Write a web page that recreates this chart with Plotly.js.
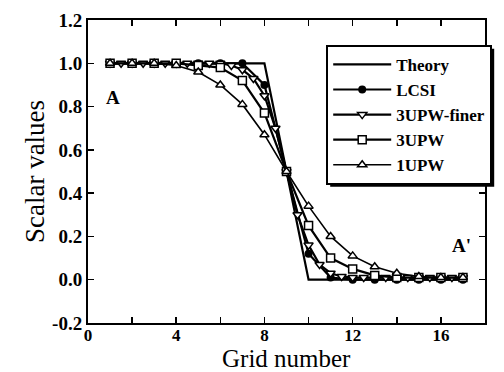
<!DOCTYPE html>
<html>
<head>
<meta charset="utf-8">
<script src="https://cdn.plot.ly/plotly-3.0.1.min.js"></script>
<style>html,body{margin:0;padding:0;background:#fff;}#chart{width:504px;height:372px;}</style>
</head>
<body>
<div id="chart"></div>
<script>
const xGrid = [1,2,3,4,5,6,7,8,9,10,11,12,13,14,15,16,17];
const theory = [1,1,1,1,1,1,1,1,0.5,0,0,0,0,0,0,0,0];
const lcsi   = [1,1,1,1,1,1,1,0.9,0.5,0.12,0.01,0,0,0,0,0,0];
const upw3   = [1,1,1,1,0.99,0.98,0.92,0.77,0.5,0.25,0.1,0.05,0.02,0.01,0.01,0.01,0.01];
const upw1   = [1,1,1,0.99,0.96,0.9,0.81,0.67,0.5,0.34,0.2,0.11,0.06,0.03,0.015,0.01,0.01];
const xFine  = [1,1.5,2,2.5,3,3.5,4,4.5,5,5.5,6,6.5,7,7.5,8,8.5,9,9.5,10,10.5,11,11.5,12,12.5,13,13.5,14,14.5,15,15.5,16,16.5,17];
const finer  = [1,1,1,1,1,1,1,1,1,1,1,0.99,0.97,0.93,0.85,0.7,0.5,0.3,0.16,0.07,0.03,0.015,0.01,0.01,0.01,0.01,0.01,0.01,0.01,0.01,0.01,0.01,0.01];
const xTicks = [0,4,8,12,16];
const yTicks = [-0.2,0,0.2,0.4,0.6,0.8,1.0,1.2];
const xTitle = 'Grid number';
const yTitle = 'Scalar values';

const serif = "Liberation Serif, Times New Roman, serif";
const K = '#000';
const traces = [
  {x:xGrid, y:theory, name:'Theory', mode:'lines', line:{color:K, width:2.2}},
  {x:xGrid, y:lcsi, name:'LCSI', mode:'lines+markers', line:{color:K, width:2.2},
   marker:{symbol:'circle', size:8, color:K}},
  {x:xFine, y:finer, name:'3UPW-finer', mode:'lines+markers', line:{color:K, width:2.2},
   marker:{symbol:'triangle-down', size:8, color:'#fff', line:{color:K, width:1.5}}},
  {x:xGrid, y:upw3, name:'3UPW', mode:'lines+markers', line:{color:K, width:2.2},
   marker:{symbol:'square', size:8, color:'#fff', line:{color:K, width:1.5}}},
  {x:xGrid, y:upw1, name:'1UPW', mode:'lines+markers', line:{color:K, width:1.6},
   marker:{symbol:'triangle-up', size:8, color:'#fff', line:{color:K, width:1.5}}}
];

const layout = {
  width:504, height:372,
  margin:{l:88, r:19, t:20, b:49, autoexpand:false},
  paper_bgcolor:'#fff', plot_bgcolor:'#fff',
  showlegend:true,
  font:{family:serif, color:K},
  xaxis:{range:[0,18], tickvals:xTicks, ticktext:xTicks.map(String), ticks:'inside', ticklen:6, tickwidth:1.5, tickcolor:K,
    minor:{dtick:2, tick0:0, ticks:'inside', ticklen:6, tickwidth:1.5, tickcolor:K},
    showline:true, linewidth:2, linecolor:K, mirror:'ticks', showgrid:false, zeroline:false,
    tickfont:{family:serif, size:17, weight:'bold', color:K}, ticklabelstandoff:-4},
  yaxis:{range:[-0.2,1.2], tickvals:yTicks, ticktext:yTicks.map(v=>v.toFixed(1)), ticksuffix:'\u2002\u2009', ticks:'inside', ticklen:6, tickwidth:1.5, tickcolor:K,
    showline:true, linewidth:2, linecolor:K, mirror:'ticks', showgrid:false, zeroline:false,
    tickfont:{family:serif, size:19, weight:'bold', color:K},
    title:{text:yTitle, font:{family:serif, size:27, color:K}, standoff:0}},
  legend:{x:0.6, y:0.918, xanchor:'left', yanchor:'top', bgcolor:'#fff', bordercolor:K, borderwidth:2,
    font:{family:serif, size:17, weight:'bold', color:K}, itemwidth:58, tracegroupgap:0},
  annotations:[
    {x:0.5, y:-0.164, xref:'paper', yref:'paper', xanchor:'center', yanchor:'bottom', text:xTitle, showarrow:false,
     font:{family:serif, size:25, color:K}, borderpad:0},
    {x:1.15, y:0.84, xref:'x', yref:'y', text:'A', showarrow:false, font:{family:serif, size:19, weight:'bold', color:K}},
    {x:16.95, y:0.16, xref:'x', yref:'y', text:"A'", showarrow:false, font:{family:serif, size:19, weight:'bold', color:K}}
  ]
};
Plotly.newPlot('chart', traces, layout, {displayModeBar:false, staticPlot:true}).then(function(gd){
  try {
    const bg = gd.querySelector('.legend .bg');
    const r = bg.getBoundingClientRect();
    const c = gd.getBoundingClientRect();
    const fs = gd._fullLayout._size;
    const toX = px => (px - fs.l) / fs.w;
    const toY = py => 1 - (py - fs.t) / fs.h;
    const off = 3;
    const L = r.left - c.left + off, R = r.right - c.left + off;
    const T = r.top - c.top + off, B = r.bottom - c.top + off;
    return Plotly.relayout(gd, {shapes:[{type:'rect', xref:'paper', yref:'paper', layer:'above',
      x0:toX(L), x1:toX(R), y0:toY(B), y1:toY(T), fillcolor:K, line:{width:0}}]});
  } catch(e) {}
});
</script>
</body>
</html>
